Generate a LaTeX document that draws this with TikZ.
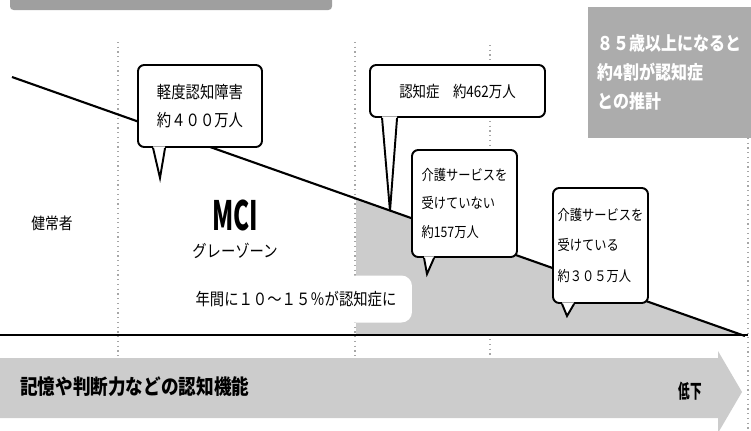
\documentclass[tikz,border=0pt]{standalone}
\usepackage{fontspec}
\newfontfamily\jp[FakeStretch=0.85]{Noto Sans CJK JP}
\newfontfamily\jpnarrow[FakeStretch=0.6]{Noto Sans CJK JP}
\usepackage{tikz}
\usetikzlibrary{calc}

\begin{document}
\begin{tikzpicture}[x=0.02cm, y=-0.02cm,
    bubble/.style={draw, fill=white, line width=1.1pt, rounded corners=3.5pt, inner sep=0pt, align=left, font=\jp\fontsize{9.6}{16}\selectfont},
    small bubble/.style={bubble, font=\jp\fontsize{8.2}{16}\selectfont},
    guide/.style={dotted, line width=0.7pt, gray!70},
    jptext/.style={font=\jp\fontsize{9.6}{11}\selectfont}]
\useasboundingbox (0,0) rectangle (751,430);

% cut-off title bar
\fill[gray!75, rounded corners=2pt] (10,-4) rectangle (332,10);

% dotted guides
\foreach \x/\a/\b in {118/42/358, 355/42/358, 490/45/358, 748/138/430}
  \draw[guide] (\x,\a) -- (\x,\b);

\coordinate (start) at (12,77);
\coordinate (end) at (745,336);
\coordinate (sh) at (356,199);
\coordinate (axisL) at (0,335);
\coordinate (axisR) at (748,335);

% dementia area
\fill[gray!40] (sh) -- (end) -- (356,335) -- cycle;
\node[fill=white, rounded corners=6pt, minimum width=4.64cm, minimum height=0.94cm, inner sep=0pt, jptext] (rate) at (296,299) {年間に１０～１５％が認知症に};

\draw[line width=1.2pt] (start) -- (end);
\draw[line width=1.2pt] (axisL) -- (axisR);

% bubbles
\node[bubble, minimum width=2.48cm, minimum height=1.64cm] (mci) at (200,106) {軽度認知障害\\約４００万人};
\node[bubble, font=\jp\fontsize{9}{11}\selectfont, minimum width=3.5cm, minimum height=1.04cm] (dem) at (457.5,91) {認知症　約462万人};
\node[small bubble, minimum width=2.1cm, minimum height=2.14cm] (nocare) at (464.5,203.5) {介護サービスを\\受けていない\\約157万人};
\node[small bubble, font=\jp\fontsize{8.2}{17.6}\selectfont, minimum width=1.9cm, minimum height=2.3cm] (care) at (600.5,245.5) {介護サービスを\\受けている\\約３０５万人};

% tails
\foreach \b/\l/\r/\tx/\ty in {mci/16/28/160/178, dem/13/28/390/211, nocare/13/23/427/274, care/10/22/567/316} {
  \fill[white] ($(\b.south west)+(\l,-1.5)$) -- (\tx,\ty) -- ($(\b.south west)+(\r,-1.5)$) -- cycle;
  \draw[line width=1.1pt] ($(\b.south west)+(\l,0)$) -- (\tx,\ty) -- ($(\b.south west)+(\r,0)$);
}

% stage labels
\node[jptext, font=\jp\fontsize{9.2}{11}\selectfont] (healthy) at (52,223) {健常者};
\node[font=\jpnarrow\bfseries\fontsize{23}{24}\selectfont] (mcitxt) at (235,215) {MCI};
\node[jptext] (grayzone) at (235,251) {グレーゾーン};

% note box
\node[fill=gray!65, minimum width=3.26cm, minimum height=2.62cm, inner sep=0pt, align=left, text=white, font=\jp\bfseries\fontsize{10.7}{16.5}\selectfont] (note) at (669.5,72.5) {８５歳以上になると\\約4割が認知症\\との推計};

% cognitive function arrow
\fill[gray!40] (0,358) -- (718,358) -- (718,351) -- (742,392) -- (718,433) -- (718,418) -- (0,418) -- cycle;
\node[font=\jp\bfseries\fontsize{11.8}{13}\selectfont, anchor=west] (func) at (14,387) {記憶や判断力などの認知機能};
\node[font=\jpnarrow\bfseries\fontsize{11}{13}\selectfont] (down) at (690,391) {低下};
\end{tikzpicture}
\end{document}
